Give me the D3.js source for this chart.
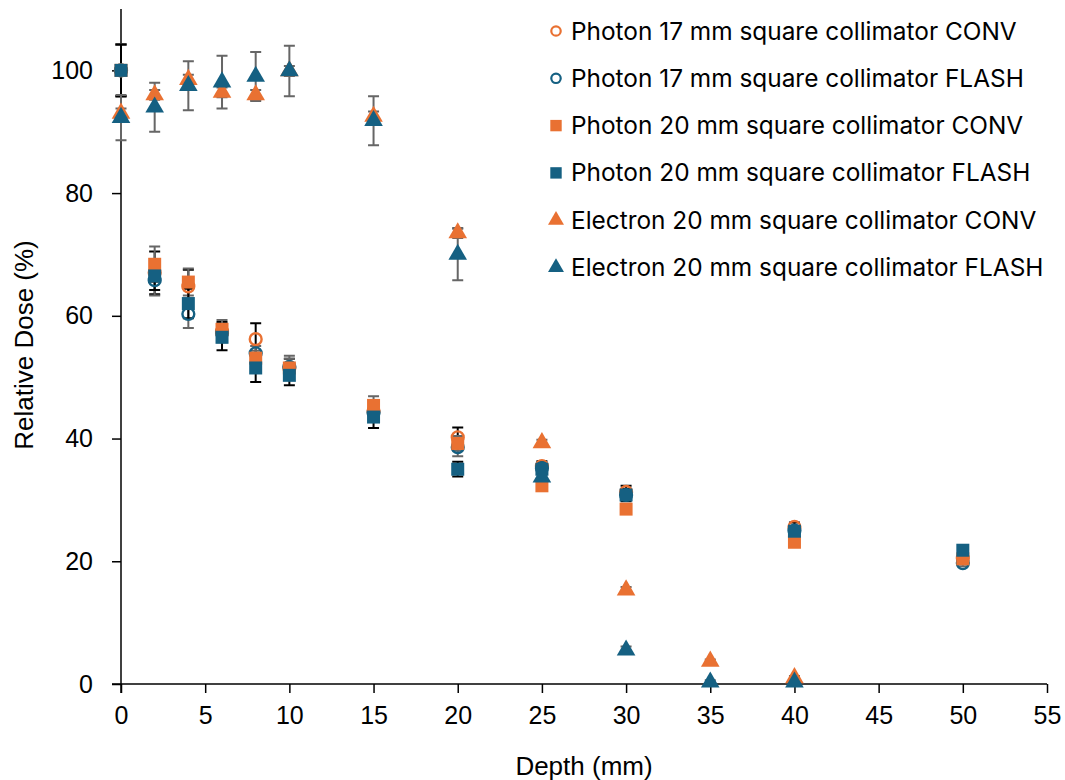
<!DOCTYPE html>
<html>
<head>
<meta charset="utf-8">
<script src="https://cdn.jsdelivr.net/npm/d3@7"></script>
<style>
  body { margin: 0; background: #fff; }
  svg { display: block; }
  .axis text { font-family: "Liberation Sans", Arial, sans-serif; font-size: 25px; fill: #000; }
  .axis path, .axis line { stroke: #000; stroke-width: 1.5px; }
  .title { font-family: "Liberation Sans", Arial, sans-serif; font-size: 26px; fill: #000; }
  .legend text { font-family: Inter, "Open Sans", sans-serif; font-size: 24.4px; fill: #000; }
</style>
</head>
<body>
<div id="chart"></div>
<script>
const orange = "#E97132";
const blue = "#156082";

// depths (mm)
const photonDepth = [0, 2, 4, 6, 8, 10, 15, 20, 25, 30, 40, 50];
const electronDepth = [0, 2, 4, 6, 8, 10, 15, 20, 25, 30, 35, 40];

// relative dose (%) and error half-widths
const p17Conv = [100, 67, 64.8, 57.5, 56.2, 51.5, 44.5, 40.2, 35.5, 31.3, 25.6, 20.5];
const p17ConvErr = [4.2, 3.5, 2.7, 1.5, 2.6, 1.5, 1.5, 1.6, 0.8, 1.0, 0.7, 0.5];
const p17Flash = [100, 65.8, 60.3, 57.2, 53.9, 51.7, 44.2, 38.6, 35.2, 30.8, 25.0, 19.7];
const p17FlashErr = [4.2, 2.5, 2.3, 1.5, 1.2, 1.8, 1.0, 1.5, 0.8, 0.8, 0.5, 0.5];
const p20Conv = [100, 68.4, 65.5, 57.8, 53.1, 51.5, 45.4, 39.2, 32.3, 28.5, 23.1, 20.4];
const p20ConvErr = [4.2, 2.9, 2.2, 1.5, 1.2, 1.5, 1.5, 1.2, 0.6, 0.8, 0.4, 0.3];
const p20Flash = [100, 66.5, 62, 56.5, 51.5, 50.3, 43.5, 35, 35, 30.8, 24.9, 21.8];
const p20FlashErr = [4.2, 2.3, 2.4, 2.1, 2.3, 1.6, 1.8, 1.2, 0.8, 1.0, 0.6, 0.4];
const eConv = [93, 96, 98.5, 96.4, 96, 99.9, 92.5, 73.5, 39.3, 15.3, 3.7, 1.0];
const eConvErr = [0.8, 0.8, 0.8, 0.8, 0.8, 0.8, 0.8, 0.8, 0.5, 0.5, 0.3, 0.3];
const eFlash = [92.3, 94, 97.5, 98.1, 99, 99.9, 91.8, 70, 33.7, 5.5, 0.3, 0.3];
const eFlashErr = [3.7, 4, 4, 4.3, 4, 4.1, 4, 4.2, 1.0, 0.6, 0.3, 0.3];

const series = [
  {name: "Photon 17 mm square collimator CONV", x: photonDepth, y: p17Conv, err: p17ConvErr, color: orange, shape: "circle", errColor: "#000"},
  {name: "Photon 17 mm square collimator FLASH", x: photonDepth, y: p17Flash, err: p17FlashErr, color: blue, shape: "circle", errColor: "#666"},
  {name: "Photon 20 mm square collimator CONV", x: photonDepth, y: p20Conv, err: p20ConvErr, color: orange, shape: "square", errColor: "#666"},
  {name: "Photon 20 mm square collimator FLASH", x: photonDepth, y: p20Flash, err: p20FlashErr, color: blue, shape: "square", errColor: "#000"},
  {name: "Electron 20 mm square collimator CONV", x: electronDepth, y: eConv, err: eConvErr, color: orange, shape: "triangle", errColor: "#666"},
  {name: "Electron 20 mm square collimator FLASH", x: electronDepth, y: eFlash, err: eFlashErr, color: blue, shape: "triangle", errColor: "#666"}
];

const xTicks = d3.range(0, 56, 5);
const yTicks = [0, 20, 40, 60, 80, 100];

const width = 1065, height = 780;
const svg = d3.select("#chart").append("svg").attr("width", width).attr("height", height);

const x = d3.scaleLinear().domain([0, 55]).range([121, 1047]);
const y = d3.scaleLinear().domain([0, 110]).range([684, 9]);

// axes
svg.append("g").attr("class", "axis")
  .attr("transform", `translate(${x(0)},0)`)
  .call(d3.axisLeft(y).tickValues(yTicks).tickSize(9).tickPadding(19).tickSizeOuter(0))
  .call(g => g.select(".domain").attr("d", `M0,${y(110)}V${y(0) + 9}`));

svg.append("g").attr("class", "axis")
  .attr("transform", `translate(0,${y(0)})`)
  .call(d3.axisBottom(x).tickValues(xTicks).tickSize(9).tickPadding(13).tickSizeOuter(0))
  .call(g => g.select(".domain").attr("d", `M${x(0) - 9},0H${x(55)}`));

svg.append("text").attr("class", "title")
  .attr("x", 584).attr("y", 775)
  .attr("text-anchor", "middle").text("Depth (mm)");
svg.append("text").attr("class", "title")
  .attr("transform", `translate(33,${345}) rotate(-90)`)
  .attr("text-anchor", "middle").text("Relative Dose (%)");

const shapes = {circle: d3.symbolCircle, square: d3.symbolSquare, triangle: d3.symbolTriangle};
const sizes = {circle: 110, square: 169, triangle: 150};

// error bars
const cap = 5.5;
series.forEach(s => {
  const g = svg.append("g").attr("stroke", s.errColor).attr("stroke-width", 2).attr("fill", "none");
  s.x.forEach((d, i) => {
    const cx = x(d), lo = y(s.y[i] - s.err[i]), hi = y(s.y[i] + s.err[i]);
    g.append("path").attr("d", `M${cx},${lo}V${hi}M${cx - cap},${lo}H${cx + cap}M${cx - cap},${hi}H${cx + cap}`);
  });
});

// markers
series.forEach(s => {
  const sym = d3.symbol().type(shapes[s.shape]).size(sizes[s.shape]);
  svg.append("g").selectAll("path")
    .data(s.x.map((d, i) => [d, s.y[i]]))
    .join("path")
    .attr("transform", d => `translate(${x(d[0])},${y(d[1])})`)
    .attr("d", sym)
    .attr("fill", s.shape === "circle" ? "none" : s.color)
    .attr("stroke", s.shape === "circle" ? s.color : "none")
    .attr("stroke-width", 2.4);
});

// legend
const legend = svg.append("g").attr("class", "legend");
const legendSizes = {circle: 70, square: 130, triangle: 110};
series.forEach((s, i) => {
  const ly = 31 + i * 47.3;
  legend.append("path")
    .attr("transform", `translate(556,${ly})`)
    .attr("d", d3.symbol().type(shapes[s.shape]).size(legendSizes[s.shape]))
    .attr("fill", s.shape === "circle" ? "none" : s.color)
    .attr("stroke", s.shape === "circle" ? s.color : "none")
    .attr("stroke-width", 2.2);
  legend.append("text").attr("x", 571).attr("y", ly).attr("dy", "0.35em").text(s.name);
});
</script>
</body>
</html>
